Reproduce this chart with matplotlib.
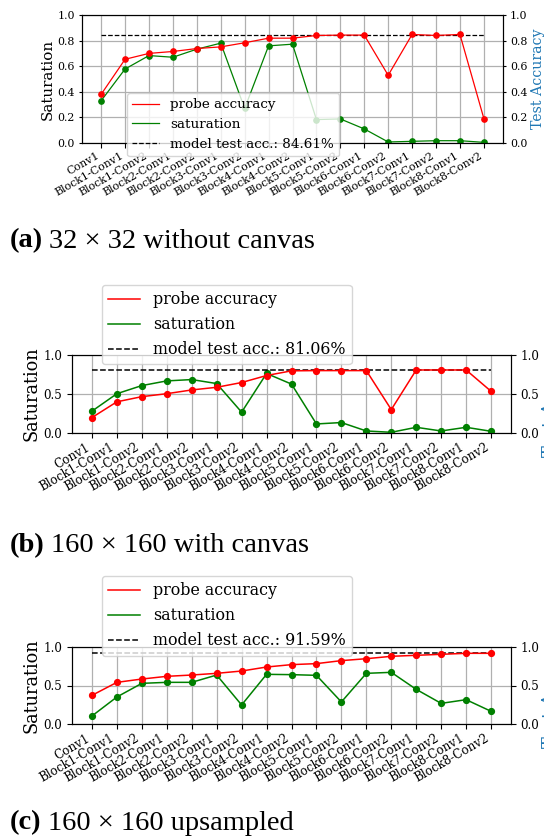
import matplotlib
matplotlib.use("Agg")
import matplotlib.pyplot as plt

plt.rcParams['font.family'] = ['DejaVu Serif']

layers = ["Conv1",
          "Block1-Conv1", "Block1-Conv2", "Block2-Conv1", "Block2-Conv2",
          "Block3-Conv1", "Block3-Conv2", "Block4-Conv1", "Block4-Conv2",
          "Block5-Conv1", "Block5-Conv2", "Block6-Conv1", "Block6-Conv2",
          "Block7-Conv1", "Block7-Conv2", "Block8-Conv1", "Block8-Conv2"]

# (a) 32x32 without canvas
probe_a = [0.380, 0.654, 0.700, 0.715, 0.738, 0.751, 0.783, 0.819, 0.819,
           0.840, 0.843, 0.843, 0.529, 0.848, 0.840, 0.848, 0.191]
sat_a = [0.330, 0.578, 0.683, 0.670, 0.733, 0.780, 0.270, 0.759, 0.772,
         0.183, 0.188, 0.110, 0.008, 0.013, 0.018, 0.018, 0.005]
test_a = 0.8461

# (b) 160x160 with canvas
probe_b = [0.198, 0.400, 0.466, 0.504, 0.552, 0.586, 0.647, 0.737, 0.797,
           0.800, 0.800, 0.800, 0.300, 0.808, 0.808, 0.808, 0.535]
sat_b = [0.280, 0.504, 0.608, 0.668, 0.685, 0.634, 0.267, 0.763, 0.627,
         0.116, 0.134, 0.026, 0.009, 0.073, 0.026, 0.073, 0.022]
test_b = 0.8106

# (c) 160x160 upsampled
probe_c = [0.372, 0.541, 0.584, 0.619, 0.636, 0.658, 0.688, 0.740, 0.771,
           0.784, 0.823, 0.848, 0.879, 0.892, 0.905, 0.918, 0.918]
sat_c = [0.104, 0.351, 0.528, 0.541, 0.541, 0.636, 0.247, 0.645, 0.641,
         0.632, 0.286, 0.658, 0.671, 0.450, 0.268, 0.316, 0.165]
test_c = 0.9159

captions = [("(a)", "32 \u00d7 32 without canvas"),
            ("(b)", "160 \u00d7 160 with canvas"),
            ("(c)", "160 \u00d7 160 upsampled")]

W, H = 544, 838
fig = plt.figure(figsize=(W / 100, H / 100), dpi=100)


def add_axes_px(left, right, top, bottom):
    return fig.add_axes([left / W, 1 - bottom / H, (right - left) / W, (bottom - top) / H])


def panel(box, probe, sat, test, yticks, tick_fs, label_fs, right_fs, leg_fs,
          lw, ms, leg_anchor, right_label_x, ytick_len, ytick_pad):
    ax = add_axes_px(*box)
    ax2 = ax.twinx()
    x = list(range(len(layers)))
    # lines carry the legend entries, markers are drawn on top without labels
    ax.plot(x, sat, color="green", lw=lw, label="saturation", zorder=3)
    ax.plot(x, sat, color="green", ls="none", marker="o", ms=ms, zorder=3)
    ax2.plot(x, probe, color="red", lw=lw, label="probe accuracy", zorder=3)
    ax2.plot(x, probe, color="red", ls="none", marker="o", ms=ms, zorder=3)
    ax2.hlines(test, x[0], x[-1], colors="black", linestyles="--", lw=lw,
               label=f"model test acc.: {test * 100:.2f}%")
    for a in (ax, ax2):
        a.set_ylim(0, 1)
        a.set_yticks(yticks)
        a.tick_params(axis="y", labelsize=tick_fs, length=ytick_len, pad=ytick_pad)
    ax.set_xticks(x)
    ax.set_xticklabels(layers, rotation=30, ha="right", fontsize=tick_fs)
    ax.tick_params(axis="x", pad=2)
    ax.grid(True, color="#b0b0b0", lw=0.9)
    ax.set_axisbelow(True)
    ax.set_ylabel("Saturation", fontsize=label_fs, labelpad=2)
    ax2.set_ylabel("Test Accuracy", fontsize=right_fs, color="tab:blue")
    ax2.yaxis.set_label_coords(right_label_x, 0.5)
    h1, l1 = ax2.get_legend_handles_labels()
    h0, l0 = ax.get_legend_handles_labels()
    handles = [h1[0], h0[0], h1[1]]
    labels = [l1[0], l0[0], l1[1]]
    leg = ax2.legend(handles, labels, loc="upper left",
                     bbox_to_anchor=(leg_anchor[0] / W, 1 - leg_anchor[1] / H),
                     bbox_transform=fig.transFigure, borderaxespad=0,
                     fontsize=leg_fs, framealpha=0.8)
    leg.set_zorder(10)
    return ax, ax2


panel((82, 503, 15, 143), probe_a, sat_a, test_a, [0, 0.2, 0.4, 0.6, 0.8, 1.0],
      7.9, 10.9, 10.2, 9.7, 0.9, 3.8, (127, 93), 1.067, 2.5, 2.5)
panel((72, 511, 355, 433), probe_b, sat_b, test_b, [0, 0.5, 1.0],
      8.6, 12.8, 12.8, 11.4, 1.1, 4.2, (102, 285), 1.07, 3.5, 3.5)
panel((72, 511, 647, 724), probe_c, sat_c, test_c, [0, 0.5, 1.0],
      8.6, 12.8, 12.8, 11.4, 1.1, 4.2, (102, 576), 1.07, 3.5, 3.5)

for (tag, text), yc in zip(captions, [241, 546, 823]):
    t1 = fig.text(10 / W, 1 - yc / H, tag, fontsize=20.5, fontweight="bold",
                  family="Liberation Serif", va="center", ha="left")
    fig.canvas.draw()
    bb = t1.get_window_extent()
    fig.text((bb.x1 + 6) / W, 1 - yc / H, text, fontsize=20.5,
             family="Liberation Serif", va="center", ha="left")

fig.savefig("out.png", dpi=100)
